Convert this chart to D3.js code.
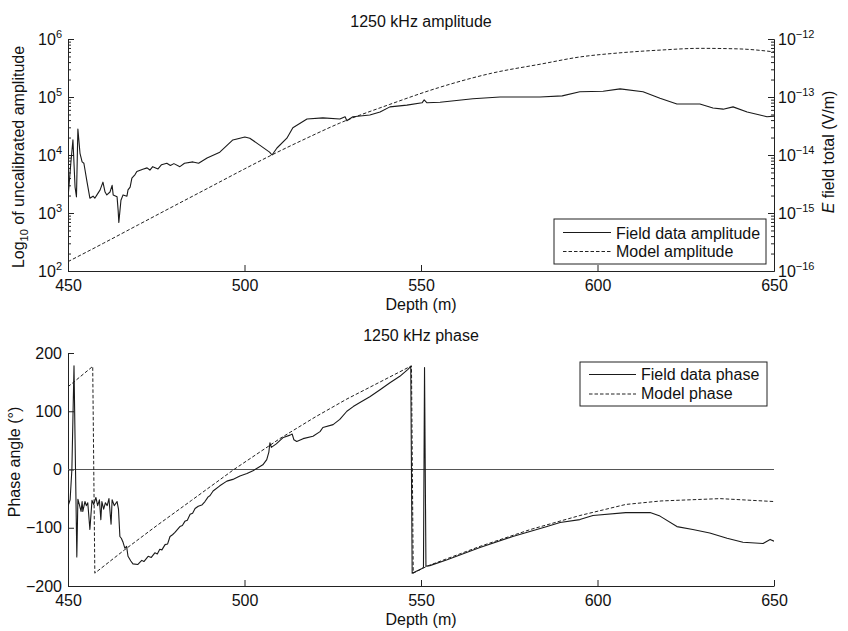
<!DOCTYPE html>
<html>
<head>
<meta charset="utf-8">
<script src="https://cdn.jsdelivr.net/npm/d3@7"></script>
<style>
body { margin: 0; background: #fff; }
text { font-family: "Liberation Sans", Arial, sans-serif; fill: #111; }
</style>
</head>
<body>
<svg id="chart" width="848" height="631"></svg>
<script>
// tick values
var depthTicks = [450, 500, 550, 600, 650];
var ampTicks = [1e2, 1e3, 1e4, 1e5, 1e6];
var efieldTicks = [1e-16, 1e-15, 1e-14, 1e-13, 1e-12];
var phaseTicks = [-200, -100, 0, 100, 200];

// field data amplitude (uncalibrated, left axis)
var fieldAmpDepth = [450, 450.8, 451.4, 452.0, 452.4, 452.8, 453.4, 454.0, 454.5, 455.4, 456.2, 457.1, 457.6, 458.2, 459.1, 459.9, 460.5, 461.0, 461.9, 462.5, 462.8, 463.9, 464.2, 464.4, 465.0, 465.6, 466.7, 467.0, 467.6, 468.1, 469.0, 469.5, 471.2, 472.4, 473.2, 474.0, 475.5, 476.5, 478.0, 479.0, 480.0, 481.7, 483.0, 485.4, 487.0, 489.4, 493.0, 496.7, 498.7, 500.1, 501.5, 504.3, 507.1, 507.8, 509.2, 512.0, 513.7, 517.7, 522.2, 527.0, 528.5, 529.0, 530.7, 535.5, 538.4, 541.2, 546.0, 550.3, 550.9, 551.7, 555.4, 564.7, 572.4, 583.7, 590.0, 595.0, 601.6, 606.4, 612.9, 617.7, 622.5, 629.0, 632.7, 635.6, 638.4, 642.4, 646.0, 648.0, 650.0];
var fieldAmpValue = [1800, 7200, 18200, 2800, 1900, 28000, 10700, 7600, 7200, 3400, 1800, 1950, 1800, 2050, 2500, 3400, 2300, 2050, 2300, 3000, 2050, 1900, 1120, 690, 1660, 2050, 1950, 2500, 2800, 4000, 4600, 5200, 5700, 6000, 5500, 6300, 5750, 6800, 7200, 6600, 7100, 6300, 7200, 7600, 7200, 8900, 11200, 18200, 19500, 20400, 19500, 14800, 11200, 10000, 13200, 19500, 29500, 41700, 43700, 41700, 45700, 39000, 45700, 49000, 55000, 67600, 72400, 79400, 89100, 79400, 81300, 93300, 100000, 100000, 104700, 123000, 125900, 138000, 123000, 95500, 75900, 75900, 64600, 61700, 67600, 55000, 49000, 45700, 46800];

// model amplitude (V/m, right axis)
var modelAmpDepth = [450, 460, 470, 480, 490, 500, 508, 518, 527, 541, 555, 570, 584, 595, 606, 618, 629, 640, 650];
var modelAmpValue = [1.45e-16, 3.0e-16, 6.3e-16, 1.32e-15, 2.75e-15, 5.75e-15, 1.02e-14, 2.0e-14, 3.55e-14, 7.4e-14, 1.45e-13, 2.57e-13, 3.7e-13, 4.9e-13, 5.75e-13, 6.45e-13, 6.9e-13, 6.75e-13, 6.0e-13];

// field data phase (degrees)
var fieldPhaseDepth = [450, 450.6, 451.1, 451.7, 452.0, 452.5, 452.8, 453.2, 453.7, 454.0, 454.2, 454.8, 455.2, 455.6, 456.2, 456.8, 457.3, 457.9, 458.4, 458.9, 459.3, 459.6, 460.1, 460.6, 461.1, 461.6, 462.2, 462.5, 463.1, 463.9, 464.3, 464.7, 465.1, 465.6, 466.1, 466.6, 467.0, 467.8, 468.4, 469.8, 470.9, 471.5, 472.7, 473.6, 474.6, 475.3, 476.0, 476.6, 477.5, 478.2, 478.9, 479.6, 480.3, 481.7, 482.4, 483.1, 483.8, 484.6, 485.3, 486.0, 486.9, 487.9, 488.8, 489.7, 490.2, 491.1, 493.0, 495.0, 496.7, 498.7, 500.7, 502.4, 503.8, 505.2, 506.3, 506.9, 507.2, 507.6, 509.0, 511.0, 512.9, 513.5, 514.0, 514.8, 516.6, 519.4, 521.4, 522.2, 525.1, 527.0, 529.0, 530.8, 532.7, 535.5, 538.4, 541.2, 544.0, 546.3, 547.1, 547.5, 550.3, 550.7, 551.0, 551.4, 552.5, 557.4, 566.7, 576.0, 585.7, 589.4, 595.0, 598.7, 608.0, 614.9, 617.7, 622.5, 627.0, 631.8, 636.7, 641.2, 646.9, 648.9, 650.0];
var fieldPhaseValue = [-63, -52, 0, 178, 52, -150, -51, -60, -72, -55, -72, -55, -62, -57, -103, -53, -60, -48, -62, -52, -86, -55, -68, -57, -62, -50, -94, -52, -62, -55, -68, -115, -118, -125, -135, -132, -149, -157, -162, -163, -156, -158, -149, -151, -143, -145, -137, -138, -129, -128, -115, -112, -108, -98, -96, -89, -87, -77, -75, -67, -63, -61, -55, -47, -45, -37, -28, -20, -17, -11, -7, -2, 3, 8, 17, 30, 46, 38, 44, 55, 59, 61, 51, 48, 53, 57, 65, 72, 77, 86, 100, 108, 115, 125, 137, 149, 160, 172, 177, -178, -170, -168, 175, -166, -165, -155, -134, -115, -98, -91, -86, -79, -74, -74, -80, -98, -103, -109, -118, -125, -127, -120, -123];

// model phase (degrees)
var modelPhaseDepth = [450, 457.0, 457.6, 466, 475, 485, 497, 510, 520, 529, 538, 547.3, 547.8, 551.7, 566.7, 581, 595, 608, 618, 634.7, 650];
var modelPhaseValue = [142, 177, -178, -138, -97, -53, 0, 53, 90, 121, 149, 178, -178, -166, -132, -103, -79, -60, -54, -50, -55];

var svg = d3.select("#chart");
var x0 = 68, x1 = 774;

function zipPts(a, b) {
	return a.map(function (d, i) { return [d, b[i]]; });
}

function supLabels(g) {
	g.selectAll(".tick text").each(function (d) {
		var t = d3.select(this);
		var e = Math.round(Math.log10(d));
		t.text(null);
		t.append("tspan").text("10");
		t.append("tspan").attr("dy", "-0.6em").style("font-size", "11px")
			.text(e < 0 ? "\u2212" + (-e) : e);
	});
}

function styleAxis(g) {
	g.selectAll("path, line").attr("stroke", "#222");
	g.selectAll("text").style("font-size", "16px").attr("fill", "#111")
		.style("font-family", "'Liberation Sans', Arial, sans-serif");
}

function minorLogTicks(lo, hi) {
	var out = [];
	for (var e = lo; e < hi; e++)
		for (var m = 2; m <= 9; m++) out.push(m * Math.pow(10, e));
	return out;
}

// ---------------- top: amplitude ----------------
var xTop = d3.scaleLinear().domain([450, 650]).range([x0, x1]);
var yAmp = d3.scaleLog().domain([1e2, 1e6]).range([271, 39]);
var yE = d3.scaleLog().domain([1e-16, 1e-12]).range([271, 39]);

svg.append("clipPath").attr("id", "clipTop").append("rect")
	.attr("x", x0).attr("y", 39).attr("width", x1 - x0).attr("height", 232);

var gTop = svg.append("g");

gTop.append("g").attr("transform", "translate(0,271)")
	.call(d3.axisBottom(xTop).tickValues(depthTicks).tickSize(-6).tickSizeOuter(0).tickPadding(8.5))
	.call(styleAxis);

gTop.append("g").attr("transform", "translate(" + x0 + ",0)")
	.call(d3.axisLeft(yAmp).tickValues(minorLogTicks(2, 6)).tickSize(-3).tickSizeOuter(0).tickFormat(""))
	.call(styleAxis);
gTop.append("g").attr("transform", "translate(" + x0 + ",0)")
	.call(d3.axisLeft(yAmp).tickValues(ampTicks).tickSize(-6).tickSizeOuter(0).tickPadding(6))
	.call(styleAxis).call(supLabels);

gTop.append("g").attr("transform", "translate(" + x1 + ",0)")
	.call(d3.axisRight(yE).tickValues(minorLogTicks(-16, -12)).tickSize(-3).tickSizeOuter(0).tickFormat(""))
	.call(styleAxis);
gTop.append("g").attr("transform", "translate(" + x1 + ",0)")
	.call(d3.axisRight(yE).tickValues(efieldTicks).tickSize(-6).tickSizeOuter(0).tickPadding(4))
	.call(styleAxis).call(supLabels);

var lineAmp = d3.line().x(function (d) { return xTop(d[0]); }).y(function (d) { return yAmp(d[1]); });
var lineE = d3.line().x(function (d) { return xTop(d[0]); }).y(function (d) { return yE(d[1]); })
	.curve(d3.curveMonotoneX);

gTop.append("path").datum(zipPts(modelAmpDepth, modelAmpValue))
	.attr("clip-path", "url(#clipTop)")
	.attr("d", lineE).attr("fill", "none").attr("stroke", "#222")
	.attr("stroke-width", 1).attr("stroke-dasharray", "3.5,2");
gTop.append("path").datum(zipPts(fieldAmpDepth, fieldAmpValue))
	.attr("clip-path", "url(#clipTop)")
	.attr("d", lineAmp).attr("fill", "none").attr("stroke", "#1a1a1a")
	.attr("stroke-width", 1.1).attr("stroke-linejoin", "round");

gTop.append("text").attr("x", 421).attr("y", 27).attr("text-anchor", "middle")
	.style("font-size", "16px").text("1250 kHz amplitude");
gTop.append("text").attr("x", 421).attr("y", 310).attr("text-anchor", "middle")
	.style("font-size", "16px").text("Depth (m)");

var lt = gTop.append("text").attr("transform", "translate(24,157) rotate(-90)")
	.attr("text-anchor", "middle").style("font-size", "16px");
lt.append("tspan").text("Log");
lt.append("tspan").attr("dy", "0.35em").style("font-size", "11px").text("10");
lt.append("tspan").attr("dy", "-0.24em").text(" of uncalibrated amplitude");

var rt = gTop.append("text").attr("transform", "translate(834,152) rotate(-90)")
	.attr("text-anchor", "middle").style("font-size", "16px");
rt.append("tspan").style("font-style", "italic").text("E");
rt.append("tspan").text(" field total (V/m)");

// legend top
var legTop = gTop.append("g");
legTop.append("rect").attr("x", 554).attr("y", 219).attr("width", 212).attr("height", 45)
	.attr("fill", "#fff").attr("stroke", "#222").attr("stroke-width", 1);
legTop.append("line").attr("x1", 563).attr("x2", 611).attr("y1", 232.5).attr("y2", 232.5)
	.attr("stroke", "#1a1a1a").attr("stroke-width", 1.1);
legTop.append("line").attr("x1", 563).attr("x2", 611).attr("y1", 251.5).attr("y2", 251.5)
	.attr("stroke", "#222").attr("stroke-dasharray", "3.5,2");
legTop.append("text").attr("x", 616).attr("y", 238.5).style("font-size", "16px").text("Field data amplitude");
legTop.append("text").attr("x", 616).attr("y", 257).style("font-size", "16px").text("Model amplitude");

// ---------------- bottom: phase ----------------
var yPh = d3.scaleLinear().domain([-200, 200]).range([586, 353]);

svg.append("clipPath").attr("id", "clipBot").append("rect")
	.attr("x", x0).attr("y", 353).attr("width", x1 - x0).attr("height", 233);

var gBot = svg.append("g");

gBot.append("g").attr("transform", "translate(0,586)")
	.call(d3.axisBottom(xTop).tickValues(depthTicks).tickSize(-6).tickSizeOuter(0).tickPadding(8.5))
	.call(styleAxis);
gBot.append("g").attr("transform", "translate(" + x0 + ",0)")
	.call(d3.axisLeft(yPh).tickValues(phaseTicks).tickSize(-6).tickSizeOuter(0).tickPadding(6)
		.tickFormat(function (d) { return d < 0 ? "\u2212" + (-d) : d; }))
	.call(styleAxis);

gBot.append("line").attr("x1", x0).attr("x2", x1).attr("y1", yPh(0)).attr("y2", yPh(0))
	.attr("stroke", "#555").attr("stroke-width", 1.2);

var linePh = d3.line().x(function (d) { return xTop(d[0]); }).y(function (d) { return yPh(d[1]); });

gBot.append("path").datum(zipPts(modelPhaseDepth, modelPhaseValue))
	.attr("clip-path", "url(#clipBot)")
	.attr("d", linePh).attr("fill", "none").attr("stroke", "#222")
	.attr("stroke-width", 1).attr("stroke-dasharray", "3.5,2");
gBot.append("path").datum(zipPts(fieldPhaseDepth, fieldPhaseValue))
	.attr("clip-path", "url(#clipBot)")
	.attr("d", linePh).attr("fill", "none").attr("stroke", "#1a1a1a")
	.attr("stroke-width", 1.1).attr("stroke-linejoin", "round");

gBot.append("text").attr("x", 421).attr("y", 341).attr("text-anchor", "middle")
	.style("font-size", "16px").text("1250 kHz phase");
gBot.append("text").attr("x", 421).attr("y", 625).attr("text-anchor", "middle")
	.style("font-size", "16px").text("Depth (m)");
gBot.append("text").attr("transform", "translate(20,462) rotate(-90)")
	.attr("text-anchor", "middle").style("font-size", "16px").text("Phase angle (\u00b0)");

// legend bottom
var legBot = gBot.append("g");
legBot.append("rect").attr("x", 580).attr("y", 362).attr("width", 187).attr("height", 44)
	.attr("fill", "#fff").attr("stroke", "#222").attr("stroke-width", 1);
legBot.append("line").attr("x1", 589).attr("x2", 636).attr("y1", 374.5).attr("y2", 374.5)
	.attr("stroke", "#1a1a1a").attr("stroke-width", 1.1);
legBot.append("line").attr("x1", 589).attr("x2", 636).attr("y1", 394).attr("y2", 394)
	.attr("stroke", "#222").attr("stroke-dasharray", "3.5,2");
legBot.append("text").attr("x", 641).attr("y", 380).style("font-size", "16px").text("Field data phase");
legBot.append("text").attr("x", 641).attr("y", 399).style("font-size", "16px").text("Model phase");
</script>
</body>
</html>
